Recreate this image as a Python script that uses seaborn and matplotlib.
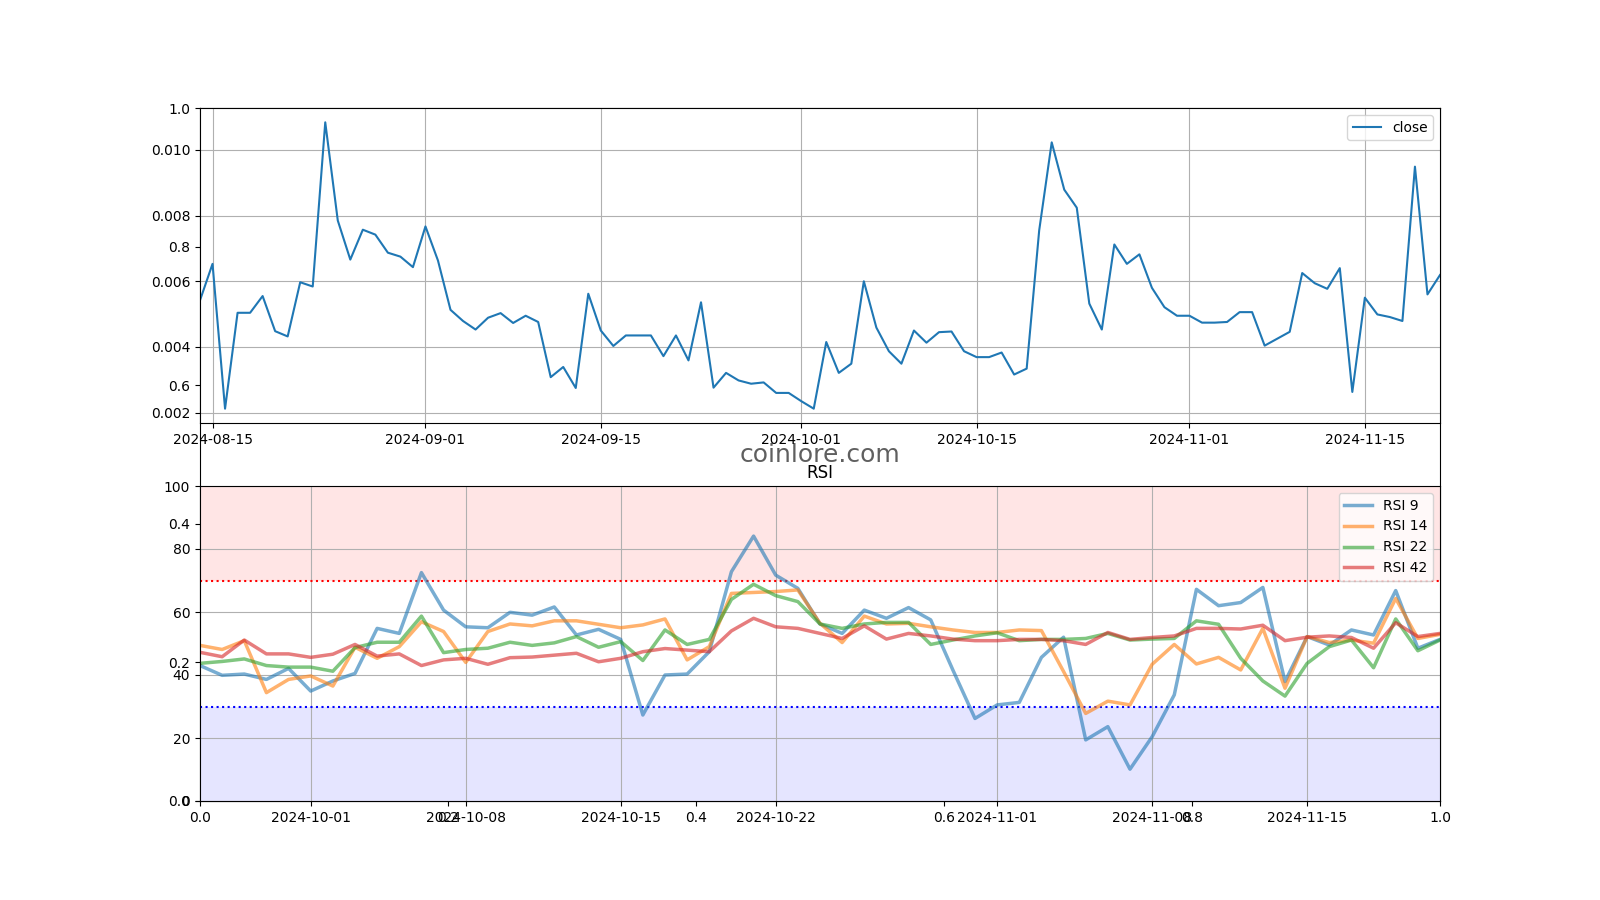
import pandas as pd
import matplotlib
matplotlib.use("Agg")
import matplotlib.pyplot as plt
import seaborn as sns

# daily close prices, 2024-08-14 .. 2024-11-21
close_start = "2024-08-14"
close = [
    0.00542, 0.00653, 0.00212, 0.00504, 0.00504, 0.00555, 0.00448, 0.00432, 0.00597, 0.00584,
    0.01084, 0.00785, 0.00666, 0.00757, 0.00742, 0.00687, 0.00675, 0.00643, 0.00767, 0.00663,
    0.00513, 0.00479, 0.00453, 0.00489, 0.00503, 0.00473, 0.00495, 0.00476, 0.00308, 0.00339,
    0.00275, 0.00562, 0.00450, 0.00403, 0.00435, 0.00435, 0.00435, 0.00372, 0.00435, 0.00359,
    0.00536, 0.00276, 0.00321, 0.00298, 0.00288, 0.00292, 0.00260, 0.00260, 0.00235, 0.00212,
    0.00415, 0.00321, 0.00349, 0.00600, 0.00459, 0.00387, 0.00349, 0.00450, 0.00413, 0.00445,
    0.00447, 0.00387, 0.00369, 0.00369, 0.00383, 0.00316, 0.00334, 0.00755, 0.01023, 0.00879,
    0.00824, 0.00532, 0.00453, 0.00712, 0.00653, 0.00682, 0.00580, 0.00521, 0.00495, 0.00495,
    0.00474, 0.00474, 0.00476, 0.00506, 0.00506, 0.00404, 0.00425, 0.00446, 0.00625, 0.00594,
    0.00577, 0.00640, 0.00263, 0.00550, 0.00499, 0.00491, 0.00479, 0.00949, 0.00560, 0.00619,
]

# RSI values, 2024-09-26 .. 2024-11-21
rsi_start = "2024-09-26"
rsi_9 = [
    43.0, 39.9, 40.3, 38.6, 42.1, 34.9, 38.1, 40.5, 54.8, 53.2,
    72.5, 60.6, 55.3, 55.0, 59.9, 59.0, 61.6, 52.7, 54.5, 51.3,
    27.3, 40.0, 40.3, 47.4, 72.8, 84.1, 71.7, 67.5, 56.2, 53.2,
    60.6, 58.0, 61.4, 57.5, 41.6, 26.2, 30.5, 31.3, 45.6, 52.0,
    19.4, 23.6, 10.1, 20.4, 33.7, 67.2, 62.0, 63.0, 67.8, 37.9,
    52.2, 49.5, 54.3, 52.7, 66.8, 48.5, 51.3,
]
rsi_14 = [
    49.4, 48.1, 50.9, 34.4, 38.6, 39.7, 36.5, 48.8, 45.3, 49.0,
    56.9, 53.8, 44.0, 53.8, 56.2, 55.6, 57.2, 57.2, 56.1, 55.0,
    55.9, 57.8, 44.8, 49.0, 65.9, 66.2, 66.5, 67.0, 56.4, 50.3,
    58.7, 56.2, 56.4, 55.3, 54.3, 53.5, 53.5, 54.3, 54.1, 41.1,
    27.8, 31.7, 30.5, 43.4, 49.7, 43.5, 45.6, 41.6, 54.8, 35.8,
    52.2, 50.3, 51.1, 50.1, 64.3, 51.6, 52.9,
]
rsi_22 = [
    43.7, 44.3, 45.1, 43.0, 42.5, 42.5, 41.2, 48.7, 50.4, 50.4,
    58.7, 47.1, 48.1, 48.5, 50.4, 49.4, 50.2, 52.2, 48.8, 50.6,
    44.6, 54.3, 49.7, 51.3, 64.0, 68.8, 65.2, 63.3, 56.2, 54.8,
    56.2, 56.7, 56.7, 49.7, 51.1, 52.4, 53.4, 50.9, 51.3, 51.3,
    51.6, 53.2, 51.1, 51.4, 51.6, 57.2, 56.1, 45.3, 38.1, 33.3,
    43.7, 49.0, 51.1, 42.3, 57.8, 47.7, 51.1,
]
rsi_42 = [
    47.2, 45.8, 51.1, 46.7, 46.7, 45.6, 46.6, 49.7, 46.0, 46.7,
    43.0, 44.8, 45.3, 43.4, 45.5, 45.7, 46.3, 46.9, 44.2, 45.3,
    47.4, 48.4, 47.9, 47.4, 54.0, 58.0, 55.3, 54.8, 53.2, 51.6,
    55.6, 51.4, 53.2, 52.4, 51.4, 50.9, 50.9, 51.3, 51.3, 50.9,
    49.7, 53.5, 51.3, 51.9, 52.4, 54.8, 54.8, 54.6, 55.8, 50.9,
    52.0, 52.4, 51.9, 48.5, 56.6, 52.2, 53.2,
]

price = pd.DataFrame({"date": pd.date_range(close_start, periods=len(close)), "close": close})
rsi = pd.DataFrame({
    "date": pd.date_range(rsi_start, periods=len(rsi_9)),
    "RSI 9": rsi_9, "RSI 14": rsi_14, "RSI 22": rsi_22, "RSI 42": rsi_42,
})

fig = plt.figure(figsize=(16, 9), dpi=100)

# background axes (left with its 0..1 ticks) carrying the watermark
bg = fig.add_subplot(111)
bg.text(0.5, 0.5, "coinlore.com", transform=bg.transAxes, ha="center", va="center",
        fontsize=18, color="#5f5f5f")

# price panel
ax1 = fig.add_subplot(211)
sns.lineplot(data=price, x="date", y="close", ax=ax1, color="tab:blue", linewidth=1.5, label="close")
ax1.set_xlim(price["date"].iloc[0], price["date"].iloc[-1])
ax1.set_xlabel("")
ax1.set_ylabel("")
ax1.grid(True)
ax1.legend(loc="upper right")

# RSI panel
ax2 = fig.add_subplot(212)
ax2.axhspan(70, 100, color="red", alpha=0.1, linewidth=0)
ax2.axhspan(0, 30, color="blue", alpha=0.1, linewidth=0)
ax2.axhline(70, color="red", linestyle=":", linewidth=1.5)
ax2.axhline(30, color="blue", linestyle=":", linewidth=1.5)
colors = ["tab:blue", "tab:orange", "tab:green", "tab:red"]
for col, c in zip(["RSI 9", "RSI 14", "RSI 22", "RSI 42"], colors):
    sns.lineplot(data=rsi, x="date", y=col, ax=ax2, color=c, linewidth=2.5, alpha=0.6, label=col)
ax2.set_xlim(rsi["date"].iloc[0], rsi["date"].iloc[-1])
ax2.set_ylim(0, 100)
ax2.set_xlabel("")
ax2.set_ylabel("")
ax2.set_title("RSI")
ax2.grid(True)
ax2.legend(loc="upper right")

plt.savefig("out.png", dpi=100)
